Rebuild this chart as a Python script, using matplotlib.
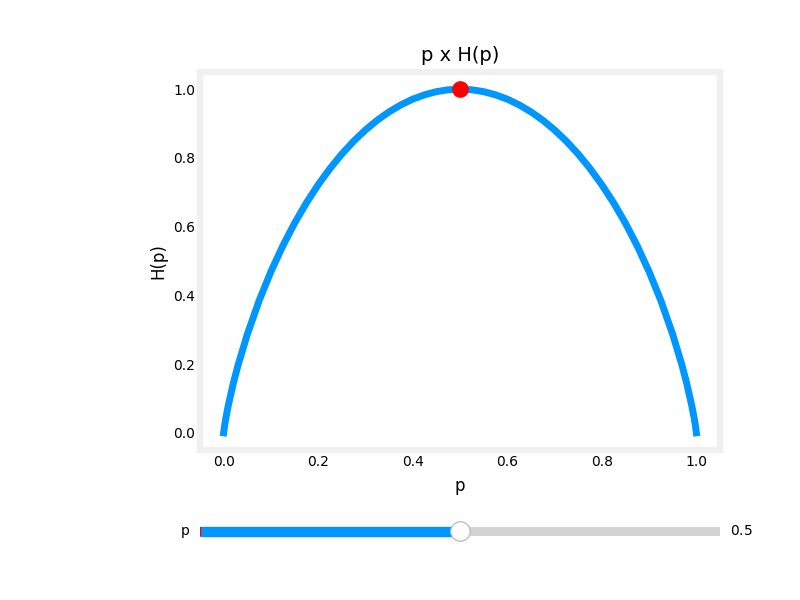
import matplotlib
matplotlib.use("Agg")
import matplotlib.pyplot as plt
from matplotlib.widgets import Slider

# Curve points (p, H(p))
p_vals = [0.0, 0.002, 0.005, 0.01, 0.02, 0.03, 0.05, 0.075, 0.1, 0.125, 0.15, 0.175,
          0.2, 0.225, 0.25, 0.275, 0.3, 0.325, 0.35, 0.375, 0.4, 0.425, 0.45, 0.475,
          0.5, 0.525, 0.55, 0.575, 0.6, 0.625, 0.65, 0.675, 0.7, 0.725, 0.75, 0.775,
          0.8, 0.825, 0.85, 0.875, 0.9, 0.925, 0.95, 0.97, 0.98, 0.99, 0.995, 0.998, 1.0]
h_vals = [0.0, 0.0208, 0.0454, 0.0808, 0.1414, 0.1944, 0.2864, 0.3843, 0.4690, 0.5436,
          0.6098, 0.6691, 0.7219, 0.7692, 0.8113, 0.8486, 0.8813, 0.9098, 0.9341, 0.9544,
          0.9710, 0.9837, 0.9928, 0.9982, 1.0, 0.9982, 0.9928, 0.9837, 0.9710, 0.9544,
          0.9341, 0.9098, 0.8813, 0.8486, 0.8113, 0.7692, 0.7219, 0.6691, 0.6098, 0.5436,
          0.4690, 0.3843, 0.2864, 0.1944, 0.1414, 0.0808, 0.0454, 0.0208, 0.0]
point_p = [0.5]
point_h = [1.0]
slider_value = 0.5

fig = plt.figure(figsize=(8, 6), dpi=100)
ax = fig.add_axes([0.25, 0.25, 0.65, 0.63])
ax.plot(p_vals, h_vals, color="#0096ff", lw=5, zorder=2)
ax.plot(point_p, point_h, "o", color="red", markersize=11, zorder=3)
ax.set_title("p x H(p)", fontsize=14, pad=8)
ax.set_xlabel("p", fontsize=12, labelpad=6)
ax.set_ylabel("H(p)", fontsize=12)
ax.tick_params(length=0)
for s in ax.spines.values():
    s.set_color("#f0f0f0")
    s.set_linewidth(4.5)

sax = fig.add_axes([0.25, 0.1, 0.65, 0.03])
slider = Slider(sax, "p", 0.0, 1.0, valinit=0.0, color="#0096ff",
                handle_style={"size": 14})
slider.set_val(slider_value)

fig.savefig("out.png", dpi=100)
